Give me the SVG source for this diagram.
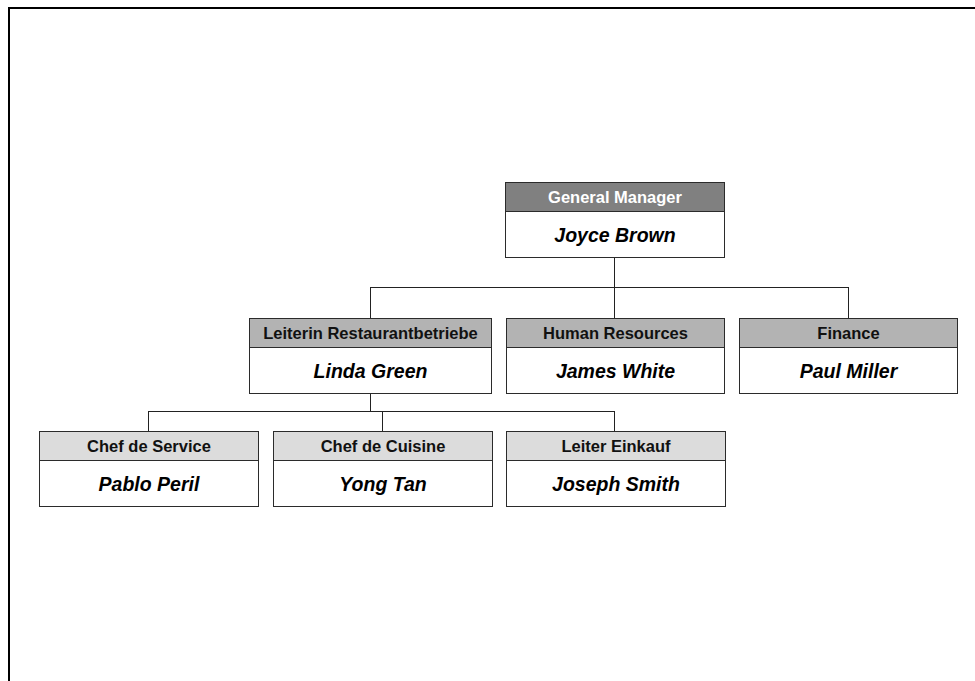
<svg xmlns="http://www.w3.org/2000/svg" width="975" height="681" viewBox="0 0 975 681">
<style>
.box{stroke:#2b2b2b;stroke-width:1;}
.body{fill:#ffffff;}
.h1{fill:#808080;}
.h2{fill:#b3b3b3;}
.h3{fill:#dcdcdc;}
.t{font-family:"Liberation Sans",Arial,sans-serif;font-weight:bold;font-size:16.5px;text-anchor:middle;fill:#111;}
.tw{fill:#ffffff;}
.n{font-family:"Liberation Sans",Arial,sans-serif;font-weight:bold;font-style:italic;font-size:19.5px;text-anchor:middle;fill:#000;}
.c{stroke:#222;stroke-width:1;fill:none;}
</style>
<rect x="0" y="0" width="975" height="681" fill="#ffffff"/>
<rect x="9" y="8" width="1000" height="1000" fill="none" stroke="#000" stroke-width="2"/>
<g id="connectors">
<path class="c" d="M614.5 258V318 M370.5 287.5H848.5 M370.5 287V318 M848.5 287V318"/>
<path class="c" d="M370.5 393V412 M148.5 411.5H615 M148.5 411V431 M382.5 411V431 M614.5 411V431"/>
</g>
<g id="gm">
<rect class="box body" x="505.5" y="182.5" width="219" height="75"/>
<rect class="box h1" x="505.5" y="182.5" width="219" height="29"/>
<text class="t tw" x="615" y="203">General Manager</text>
<text class="n" x="615" y="242">Joyce Brown</text>
</g>
<g id="linda">
<rect class="box body" x="249.5" y="318.5" width="242" height="75"/>
<rect class="box h2" x="249.5" y="318.5" width="242" height="29"/>
<text class="t" x="370.5" y="339">Leiterin Restaurantbetriebe</text>
<text class="n" x="370.5" y="378">Linda Green</text>
</g>
<g id="hr">
<rect class="box body" x="506.5" y="318.5" width="218" height="75"/>
<rect class="box h2" x="506.5" y="318.5" width="218" height="29"/>
<text class="t" x="615.5" y="339">Human Resources</text>
<text class="n" x="615.5" y="378">James White</text>
</g>
<g id="finance">
<rect class="box body" x="739.5" y="318.5" width="218" height="75"/>
<rect class="box h2" x="739.5" y="318.5" width="218" height="29"/>
<text class="t" x="848.5" y="339">Finance</text>
<text class="n" x="848.5" y="378">Paul Miller</text>
</g>
<g id="service">
<rect class="box body" x="39.5" y="431.5" width="219" height="75"/>
<rect class="box h3" x="39.5" y="431.5" width="219" height="29"/>
<text class="t" x="149" y="452">Chef de Service</text>
<text class="n" x="149" y="491">Pablo Peril</text>
</g>
<g id="cuisine">
<rect class="box body" x="273.5" y="431.5" width="219" height="75"/>
<rect class="box h3" x="273.5" y="431.5" width="219" height="29"/>
<text class="t" x="383" y="452">Chef de Cuisine</text>
<text class="n" x="383" y="491">Yong Tan</text>
</g>
<g id="einkauf">
<rect class="box body" x="506.5" y="431.5" width="219" height="75"/>
<rect class="box h3" x="506.5" y="431.5" width="219" height="29"/>
<text class="t" x="616" y="452">Leiter Einkauf</text>
<text class="n" x="616" y="491">Joseph Smith</text>
</g>
</svg>
